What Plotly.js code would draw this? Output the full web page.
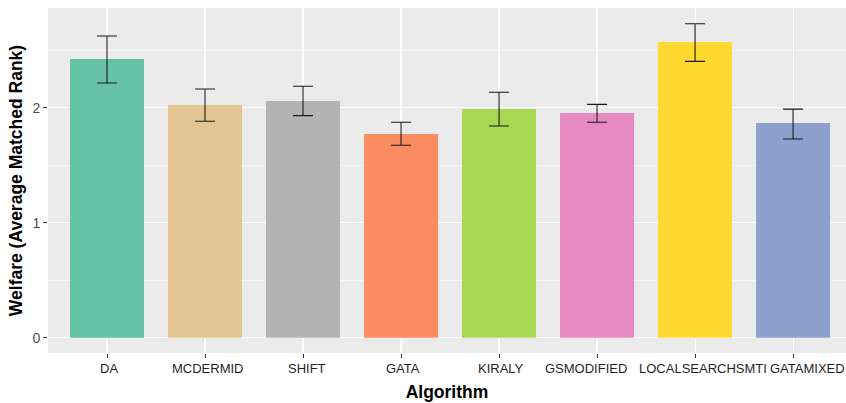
<!DOCTYPE html>
<html>
<head>
<meta charset="utf-8">
<script src="https://cdn.plot.ly/plotly-3.0.1.min.js"></script>
<style>
html,body{margin:0;padding:0;background:#fff;}
#chart{width:846px;height:403px;}
</style>
</head>
<body>
<div id="chart"></div>
<script>
const algorithms = ["DA","MCDERMID","SHIFT","GATA","KIRALY","GSMODIFIED","LOCALSEARCHSMTI","GATAMIXED"];
const welfare = [2.423, 2.023, 2.058, 1.771, 1.988, 1.954, 2.571, 1.867];
const upper = [2.623, 2.163, 2.186, 1.873, 2.134, 2.029, 2.730, 1.988];
const lower = [2.215, 1.882, 1.931, 1.673, 1.841, 1.873, 2.403, 1.728];
const colors = ["#66C2A5","#E5C494","#B3B3B3","#FC8D62","#A6D854","#E78AC3","#FFD92F","#8DA0CB"];

// small horizontal nudges of the category labels, as placed in the reference
const labelNudge = {DA: 2, MCDERMID: 3, SHIFT: 4, GATA: 2, KIRALY: 2, GSMODIFIED: -11, LOCALSEARCHSMTI: 7.5, GATAMIXED: 14};

const trace = {
  type: "bar",
  x: algorithms,
  y: welfare,
  width: 0.755,
  marker: {color: colors, line: {width: 0}},
  error_y: {
    type: "data",
    symmetric: false,
    array: upper.map((u, i) => u - welfare[i]),
    arrayminus: welfare.map((w, i) => w - lower[i]),
    color: "#1a1a1a",
    thickness: 1.1,
    width: 10
  },
  hoverinfo: "x+y"
};

const labelFont = {size: 13, color: "#1f1f1f", family: "Liberation Sans, Arial, sans-serif"};

const annotations = algorithms.map(a => ({
  x: a, xref: "x",
  y: 0, yref: "paper",
  yanchor: "top", xanchor: "center",
  yshift: -7, xshift: labelNudge[a] || 0,
  borderpad: 0,
  text: a, showarrow: false,
  font: labelFont
}));

const layout = {
  width: 846,
  height: 403,
  margin: {l: 48, r: 0, t: 8, b: 50},
  paper_bgcolor: "#FFFFFF",
  plot_bgcolor: "#EBEBEB",
  showlegend: false,
  font: {family: "Liberation Sans, Arial, sans-serif", color: "#4D4D4D"},
  xaxis: {
    type: "category",
    range: [-0.602, 7.54],
    showticklabels: false,
    showgrid: true,
    gridcolor: "#FFFFFF",
    gridwidth: 1.1,
    zeroline: false,
    showline: false,
    ticks: "outside",
    ticklen: 4,
    tickwidth: 1,
    tickcolor: "#333333",
    title: {text: "<b>Algorithm</b>", font: {size: 17.5, color: "#000000"}, standoff: 28}
  },
  yaxis: {
    range: [-0.133, 2.867],
    tickvals: [0, 1, 2],
    ticktext: ["0", "1", "2"],
    showgrid: true,
    gridcolor: "#FFFFFF",
    gridwidth: 1.1,
    minor: {tickvals: [0.5, 1.5, 2.5], showgrid: true, gridcolor: "#FFFFFF", gridwidth: 0.5, ticks: ""},
    zeroline: false,
    showline: false,
    ticks: "outside",
    ticklen: 4,
    tickwidth: 1,
    tickcolor: "#333333",
    tickfont: {size: 14, color: "#4D4D4D"},
    title: {text: "<b>Welfare (Average Matched Rank)</b>", font: {size: 17.5, color: "#000000"}, standoff: 5}
  },
  annotations: annotations,
  bargap: 0.245
};

Plotly.newPlot("chart", [trace], layout, {displayModeBar: false, staticPlot: true});
</script>
</body>
</html>
